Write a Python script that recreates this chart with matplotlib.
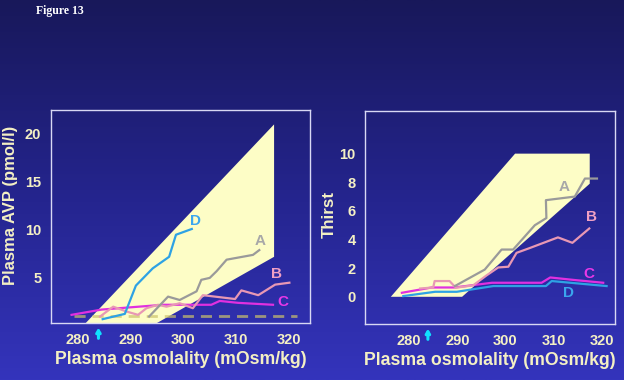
import numpy as np
import matplotlib
matplotlib.use('Agg')
import matplotlib.pyplot as plt
from matplotlib.colors import LinearSegmentedColormap

plt.rcParams['font.family'] = ['Liberation Sans', 'DejaVu Sans']

# --- Left panel: plasma AVP vs plasma osmolality ---
avp_band_x = [281.5, 317.2, 317.2, 295.0]
avp_band_y = [0.3, 21.0, 7.2, 0.3]

avp_a_x = [293.5, 297.1, 299.3, 302.5, 303.4, 305.0, 306.3, 308.2, 313.2, 314.4]
avp_a_y = [0.97, 3.05, 2.7, 3.6, 4.8, 5.0, 5.7, 6.9, 7.4, 7.9]
avp_b_x = [284.2, 286.7, 289.2, 291.4, 293.0, 295.2, 296.8, 299.3, 301.8, 303.7, 309.8, 311.0, 314.2, 317.4, 320.1]
avp_b_y = [0.97, 2.0, 1.5, 1.15, 1.84, 2.2, 2.0, 2.36, 1.84, 3.2, 2.8, 3.7, 3.2, 4.3, 4.5]
avp_c_x = [278.8, 284.5, 296.2, 301.8, 305.3, 306.9, 310.4, 317.0]
avp_c_y = [1.15, 1.7, 2.2, 2.2, 2.2, 2.6, 2.4, 2.2]
avp_d_x = [284.7, 288.9, 291.0, 294.2, 297.3, 298.6, 301.6]
avp_d_y = [0.7, 1.25, 4.2, 6.0, 7.2, 9.5, 10.1]
avp_normal_x = [279.2, 321.5]
avp_normal_y = [1.0, 1.0]

# --- Right panel: thirst vs plasma osmolality ---
th_band_x = [276.2, 302.0, 317.5, 317.5, 291.0]
th_band_y = [0.0, 10.0, 10.0, 7.9, 0.0]

th_a_x = [289.5, 295.7, 299.2, 301.6, 306.1, 308.5, 308.4, 314.4, 316.5, 319.0]
th_a_y = [0.75, 1.9, 3.3, 3.3, 5.0, 5.5, 6.75, 7.0, 8.26, 8.26]
th_b_x = [282.3, 285.0, 285.3, 288.4, 289.7, 293.3, 296.1, 298.5, 300.6, 302.3, 305.0, 310.9, 313.9, 317.4]
th_b_y = [0.58, 0.65, 1.1, 1.1, 0.63, 0.8, 1.5, 2.05, 2.1, 3.07, 3.4, 4.15, 3.77, 4.77]
th_c_x = [278.5, 284.7, 289.4, 297.2, 307.5, 309.3, 314.4, 320.3]
th_c_y = [0.28, 0.65, 0.65, 0.98, 0.98, 1.35, 1.17, 0.98]
th_d_x = [278.8, 285.4, 289.9, 297.5, 308.4, 309.6, 315.1, 321.0]
th_d_y = [0.05, 0.35, 0.35, 0.75, 0.75, 1.1, 0.93, 0.75]

arrow_x = 283.9

x_ticks = [280, 290, 300, 310, 320]
avp_ticks = [5, 10, 15, 20]
th_ticks = [0, 2, 4, 6, 8, 10]

col_a = '#9a9a9a'
col_b = '#e898b4'
col_c = '#e030e0'
col_d = '#2ea2e4'
txt_col = '#f4f0c4'
band_col = '#fdfdc6'
frame_col = '#d8d8f4'

fig = plt.figure(figsize=(6.24, 3.8), dpi=100)

# gradient background
bg = fig.add_axes([0, 0, 1, 1], zorder=-10)
cmap = LinearSegmentedColormap.from_list('bg', ['#18185a', '#24248c', '#3434bc'])
grad = np.linspace(0, 1, 256).reshape(-1, 1)
bg.imshow(grad, aspect='auto', cmap=cmap, extent=[0, 1, 0, 1], origin='upper')
bg.axis('off')

fig.text(0.058, 0.972, 'Figure 13', color='white', fontsize=8.5, fontweight='bold',
         family='Liberation Serif', ha='left', va='center')


def style(ax):
    ax.patch.set_alpha(0)
    for s in ax.spines.values():
        s.set_color(frame_col)
        s.set_linewidth(1.0)
    ax.tick_params(length=0, colors=txt_col, labelsize=10.5, pad=7)
    for lb in ax.get_xticklabels() + ax.get_yticklabels():
        lb.set_fontweight('bold')
    ax.set_xlabel('Plasma osmolality (mOsm/kg)', color=txt_col, fontsize=12.7,
                  fontweight='bold', labelpad=3)
    # small cyan arrow under the axis
    ax.annotate('', xy=(arrow_x, -0.022), xycoords=('data', 'axes fraction'),
                xytext=(arrow_x, -0.072), textcoords=('data', 'axes fraction'),
                arrowprops=dict(arrowstyle='-|>,head_width=0.13,head_length=0.22',
                                color='#10e0ff', lw=2.2, shrinkA=0, shrinkB=0),
                annotation_clip=False)


# left panel
ax1 = fig.add_axes([0.0817, 0.15, 0.415, 0.5605])
ax1.fill(avp_band_x, avp_band_y, color=band_col, lw=0, zorder=1)
ax1.plot(avp_normal_x, avp_normal_y, color=(0.8, 0.76, 0.42), alpha=0.7, lw=2,
         dashes=(4, 2.5), zorder=2)
ax1.plot(avp_c_x, avp_c_y, color=col_c, lw=1.6, zorder=3)
ax1.plot(avp_b_x, avp_b_y, color=col_b, lw=1.6, zorder=3)
ax1.plot(avp_a_x, avp_a_y, color=col_a, lw=1.6, zorder=3)
ax1.plot(avp_d_x, avp_d_y, color=col_d, lw=1.6, zorder=4)
ax1.set_xlim(274.9, 324)
ax1.set_ylim(0.3, 22.5)
ax1.set_xticks(x_ticks)
ax1.set_yticks(avp_ticks)
ax1.set_ylabel('Plasma AVP (pmol/l)', color=txt_col, fontsize=12, fontweight='bold')
ax1.yaxis.set_label_coords(-0.127, 0.554)
ax1.tick_params(axis='y', pad=2)
style(ax1)
lab = dict(fontsize=11, fontweight='bold', ha='center', va='center')
ax1.text(302.3, 10.9, 'D', color='#3aa6ee', **lab)
ax1.text(314.5, 8.8, 'A', color='#a8a8a8', **lab)
ax1.text(317.7, 5.4, 'B', color='#f0a0c4', **lab)
ax1.text(318.8, 2.5, 'C', color='#e838e8', **lab)

# right panel
ax2 = fig.add_axes([0.5854, 0.1474, 0.4006, 0.5613])
ax2.fill(th_band_x, th_band_y, color=band_col, lw=0, zorder=1)
ax2.plot(th_d_x, th_d_y, color=col_d, lw=1.6, zorder=3)
ax2.plot(th_c_x, th_c_y, color=col_c, lw=1.6, zorder=3)
ax2.plot(th_b_x, th_b_y, color=col_b, lw=1.6, zorder=3)
ax2.plot(th_a_x, th_a_y, color=col_a, lw=1.6, zorder=3)
ax2.set_xlim(270.9, 322.8)
ax2.set_ylim(-1.9, 13)
ax2.set_xticks(x_ticks)
ax2.set_yticks(th_ticks)
ax2.set_ylabel('Thirst', color=txt_col, fontsize=12.2, fontweight='bold')
ax2.yaxis.set_label_coords(-0.113, 0.511)
ax2.tick_params(axis='y', pad=3)
style(ax2)
ax2.text(312.2, 7.7, 'A', color='#a8a8a8', **lab)
ax2.text(317.8, 5.55, 'B', color='#f0a0c4', **lab)
ax2.text(317.4, 1.58, 'C', color='#e838e8', **lab)
ax2.text(313.1, 0.24, 'D', color='#3aa6ee', **lab)

fig.savefig('out.png', dpi=100)
